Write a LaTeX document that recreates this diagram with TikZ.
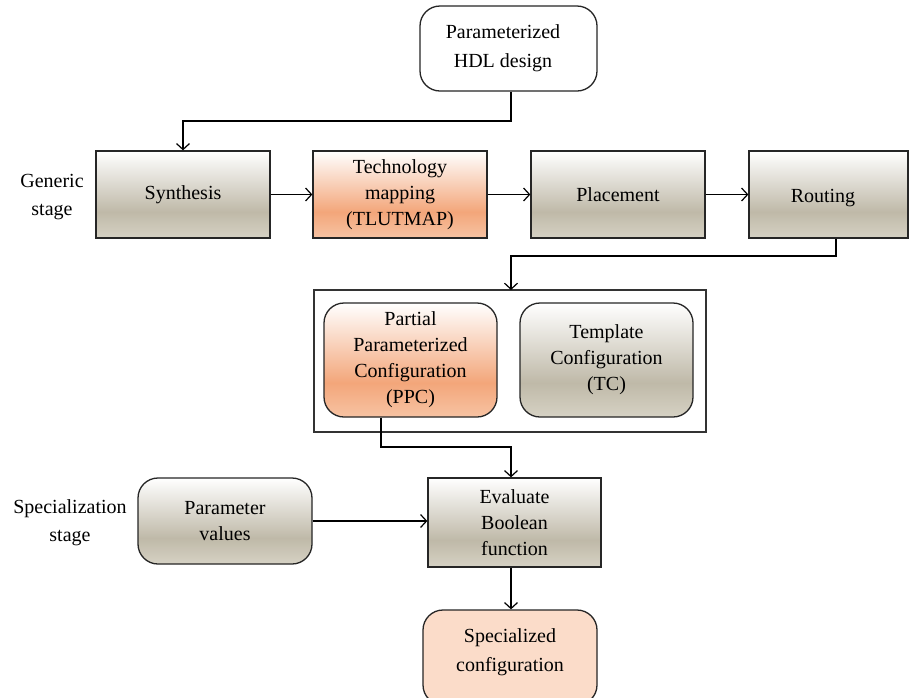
\documentclass[tikz,border=0pt]{standalone}
\usepackage{fontspec}
\setmainfont{Liberation Serif}
\usetikzlibrary{arrows.meta}
\definecolor{gmid}{HTML}{BFB9A8}
\definecolor{gbot}{HTML}{D6D2C4}
\definecolor{omid}{HTML}{F3A67A}
\definecolor{obot}{HTML}{F7C3A3}
\definecolor{peach}{HTML}{FBDCC9}
\pgfdeclareverticalshading{grayshade}{100bp}{color(0bp)=(gbot); color(25bp)=(gbot); color(40bp)=(gmid); color(75bp)=(white); color(100bp)=(white)}
\pgfdeclareverticalshading{orangeshade}{100bp}{color(0bp)=(obot); color(25bp)=(obot); color(40bp)=(omid); color(75bp)=(white); color(100bp)=(white)}
\tikzset{
  box/.style={draw=black!85, line width=1.3pt, align=center, font=\fontsize{20}{26}\selectfont, inner sep=2pt},
  graybox/.style={box, shading=grayshade},
  orangebox/.style={box, shading=orangeshade},
  rbox/.style={rounded corners=20pt},
  conn/.style={line width=1.2pt, -{Straight Barb[length=6pt,width=13pt,line width=1.2pt]}},
  lab/.style={align=center, font=\fontsize{20}{28}\selectfont},
  txt/.style={align=center, font=\fontsize{20}{29}\selectfont}
}
\begin{document}
\begin{tikzpicture}[x=1pt,y=-1pt]
\clip (0,0) rectangle (910,697);
\fill[white] (0,0) rectangle (910,697);
% top input
\node[box, rbox, fill=white, minimum width=177pt, minimum height=85pt] (hdl) at (508.5,48.5) {};
\node[txt] (hdltext) at (503,48) {Parameterized\\HDL design};
% generic stage row
\node[graybox, minimum width=174pt, minimum height=87pt] (syn) at (183,194.5) {Synthesis};
\node[orangebox, minimum width=174pt, minimum height=87pt] (tm) at (400,194.5) {Technology\\mapping\\(TLUTMAP)};
\node[graybox, minimum width=174pt, minimum height=87pt] (pl) at (618,194.5) {Placement};
\node[graybox, minimum width=159pt, minimum height=87pt] (rt) at (828.5,194.5) {};
\node[txt] (rttext) at (823,198) {Routing};
% container
\node[draw=black!80, line width=1.2pt, minimum width=392pt, minimum height=142pt] (cont) at (510,361) {};
\node[orangebox, rbox, minimum width=173pt, minimum height=114pt] (ppc) at (410.5,360) {Partial\\Parameterized\\Configuration\\(PPC)};
\node[graybox, rbox, minimum width=173pt, minimum height=114pt] (tc) at (606.5,360) {Template\\Configuration\\(TC)};
% specialization stage
\node[graybox, rbox, minimum width=174pt, minimum height=86pt] (pv) at (225,521) {Parameter\\values};
\node[graybox, minimum width=173pt, minimum height=89pt] (ev) at (514.5,522.5) {Evaluate\\Boolean\\function};
\node[box, rbox, fill=peach, minimum width=174pt, minimum height=95pt] (sc) at (510,657.5) {};
\node[txt] (sctext) at (510,652) {Specialized\\configuration};
% stage labels
\node[lab] (gen) at (52,197) {Generic\\stage};
\node[lab] (spec) at (70,523) {Specialization\\stage};
% connectors
\coordinate (c1) at (511,121);
\draw[conn] (hdl.south -| c1) -- (c1) -- (c1 -| syn.north) -- (syn.north);
\draw[conn] (syn.east) -- (tm.west);
\draw[conn] (tm.east) -- (pl.west);
\draw[conn] (pl.east) -- (rt.west);
\coordinate (c2) at (836,256);
\draw[conn] (rt.south -| c2) -- (c2) -- (511,256) -- (511,290);
\coordinate (c3) at (381,447);
\draw[conn] (ppc.south -| c3) -- (c3) -- (511,447) -- (ev.north -| 511,0);
\draw[conn] (pv.east) -- (ev.west |- pv.east);
\draw[conn] (ev.south -| 511,0) -- (sc.north -| 511,0);
\end{tikzpicture}
\end{document}
